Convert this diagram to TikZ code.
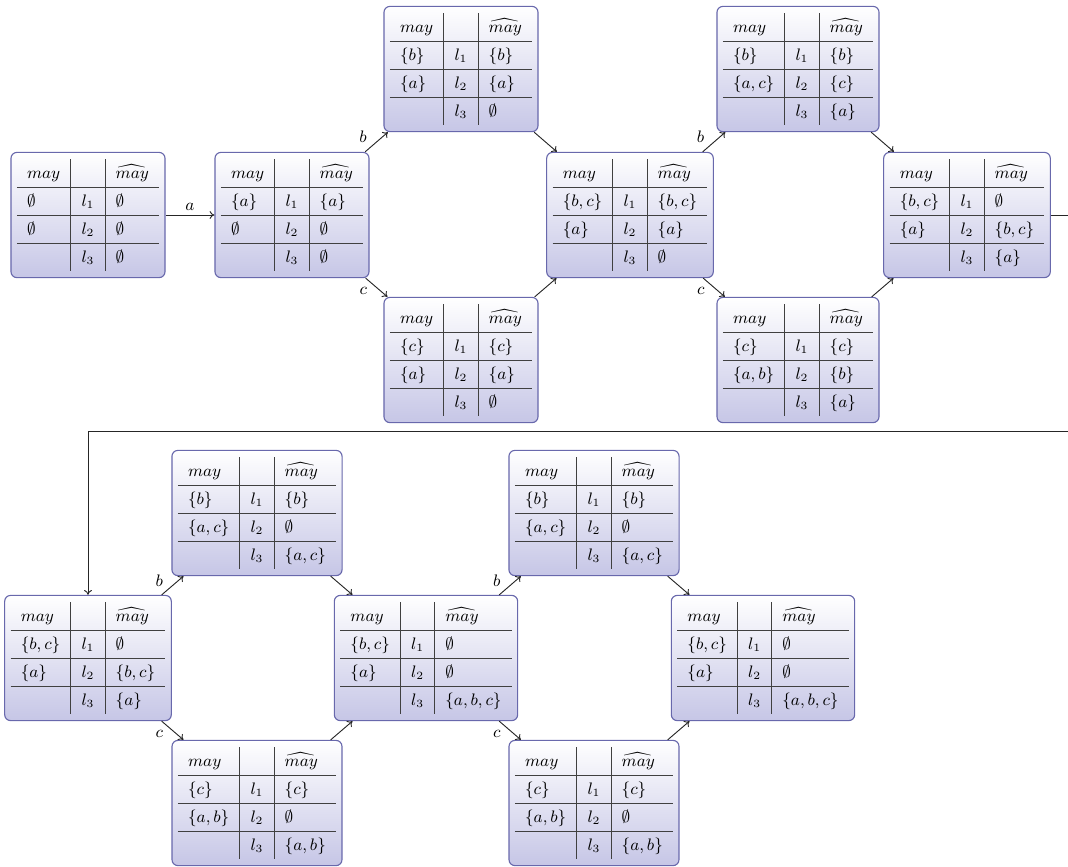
\documentclass[tikz,border=0pt]{standalone}
\usepackage{colortbl}
\usetikzlibrary{arrows.meta,positioning}

\definecolor{stateline}{RGB}{104,104,172}
\definecolor{statefill}{RGB}{198,198,230}

\setlength{\tabcolsep}{5.5pt}
\setlength{\arrayrulewidth}{0.5pt}
\renewcommand{\arraystretch}{1.33}
\arrayrulecolor{black!75}

% one state: may / l_i / hat may
\newcommand{\maytable}[5]{%
  \begin{tabular}{l|l|l}
    $may$ & & $\widehat{may}$\\ \hline
    $#1$ & $l_1$ & $#2$\\ \hline
    $#3$ & $l_2$ & $#4$\\ \hline
    & $l_3$ & $#5$
  \end{tabular}}

\begin{document}
\begin{tikzpicture}[x=0.54pt, y=0.54pt, on grid,
  state/.style={draw=stateline, rounded corners=3.2pt, top color=white,
    bottom color=statefill, inner xsep=3.2pt, inner ysep=3.8pt,
    font=\small, line width=.6pt},
  flow/.style={-{To[length=2.6pt,width=4.2pt]}, draw=black!85, line width=.5pt},
  lbl/.style={font=\small, inner sep=2pt}
]
\useasboundingbox (0,0) rectangle (1068,-866);

% first row
\node[state] (n0) at (88,-215)
  {\maytable{\emptyset}{\emptyset}{\emptyset}{\emptyset}{\emptyset}};
\node[state, right=204 of n0] (n1)
  {\maytable{\{a\}}{\{a\}}{\emptyset}{\emptyset}{\emptyset}};
\node[state, above right=146 and 169 of n1] (n2)
  {\maytable{\{b\}}{\{b\}}{\{a\}}{\{a\}}{\emptyset}};
\node[state, below right=145 and 169 of n1] (n3)
  {\maytable{\{c\}}{\{c\}}{\{a\}}{\{a\}}{\emptyset}};
\node[state, below right=146 and 169 of n2] (n4)
  {\maytable{\{b,c\}}{\{b,c\}}{\{a\}}{\{a\}}{\emptyset}};
\node[state, above right=146 and 168 of n4] (n5)
  {\maytable{\{b\}}{\{b\}}{\{a,c\}}{\{c\}}{\{a\}}};
\node[state, below right=145 and 168 of n4] (n6)
  {\maytable{\{c\}}{\{c\}}{\{a,b\}}{\{b\}}{\{a\}}};
\node[state, below right=146 and 169 of n5] (n7)
  {\maytable{\{b,c\}}{\emptyset}{\{a\}}{\{b,c\}}{\{a\}}};

% second row
\node[state, below=443 of n0] (m0)
  {\maytable{\{b,c\}}{\emptyset}{\{a\}}{\{b,c\}}{\{a\}}};
\node[state, above right=145 and 169 of m0] (m1)
  {\maytable{\{b\}}{\{b\}}{\{a,c\}}{\emptyset}{\{a,c\}}};
\node[state, below right=145 and 169 of m0] (m2)
  {\maytable{\{c\}}{\{c\}}{\{a,b\}}{\emptyset}{\{a,b\}}};
\node[state, below right=145 and 169 of m1] (m3)
  {\maytable{\{b,c\}}{\emptyset}{\{a\}}{\emptyset}{\{a,b,c\}}};
\node[state, above right=145 and 168 of m3] (m4)
  {\maytable{\{b\}}{\{b\}}{\{a,c\}}{\emptyset}{\{a,c\}}};
\node[state, below right=145 and 168 of m3] (m5)
  {\maytable{\{c\}}{\{c\}}{\{a,b\}}{\emptyset}{\{a,b\}}};
\node[state, below right=145 and 169 of m4] (m6)
  {\maytable{\{b,c\}}{\emptyset}{\{a\}}{\emptyset}{\{a,b,c\}}};

\coordinate[above=163 of m0.north] (back);

\draw[flow] (n0) -- node[lbl, above] {$a$} (n1);
\draw[flow] (n1) -- node[lbl, near start, above left] {$b$} (n2);
\draw[flow] (n1) -- node[lbl, near start, below left] {$c$} (n3);
\draw[flow] (n2) -- (n4);
\draw[flow] (n3) -- (n4);
\draw[flow] (n4) -- node[lbl, near start, above left] {$b$} (n5);
\draw[flow] (n4) -- node[lbl, near start, below left] {$c$} (n6);
\draw[flow] (n5) -- (n7);
\draw[flow] (n6) -- (n7);

\draw[flow] (n7.east) -- ++(40,0) |- (back) -- (m0);

\draw[flow] (m0) -- node[lbl, near start, above left] {$b$} (m1);
\draw[flow] (m0) -- node[lbl, near start, below left] {$c$} (m2);
\draw[flow] (m1) -- (m3);
\draw[flow] (m2) -- (m3);
\draw[flow] (m3) -- node[lbl, near start, above left] {$b$} (m4);
\draw[flow] (m3) -- node[lbl, near start, below left] {$c$} (m5);
\draw[flow] (m4) -- (m6);
\draw[flow] (m5) -- (m6);
\end{tikzpicture}
\end{document}
